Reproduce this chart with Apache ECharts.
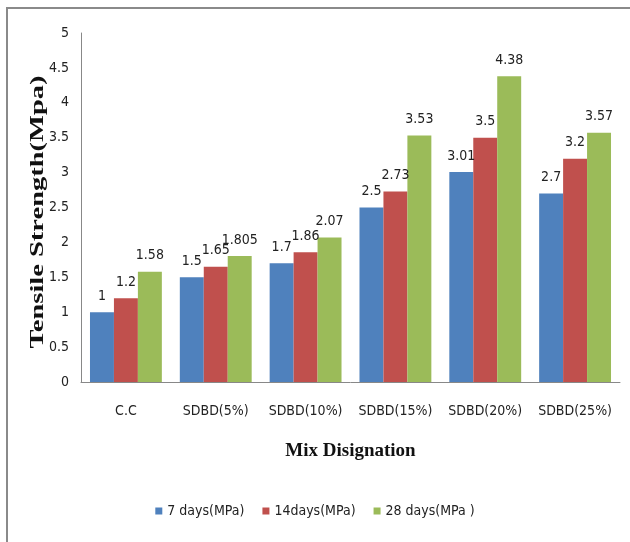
<!DOCTYPE html>
<html>
<head>
<meta charset="utf-8">
<script src="https://cdn.jsdelivr.net/npm/echarts@6/dist/echarts.min.js"></script>
<style>
  html, body { margin: 0; padding: 0; background: #fff; }
  #chart { width: 630px; height: 542px; }
</style>
</head>
<body>
<div id="chart"></div>
<script>
// Split tensile strength of concrete mixes at three curing ages
const categories = ['C.C', 'SDBD(5%)', 'SDBD(10%)', 'SDBD(15%)', 'SDBD(20%)', 'SDBD(25%)'];
const seriesNames = ['7 days(MPa)', '14days(MPa)', '28 days(MPa )'];
const days7 = [1, 1.5, 1.7, 2.5, 3.01, 2.7];
const days14 = [1.2, 1.65, 1.86, 2.73, 3.5, 3.2];
const days28 = [1.58, 1.805, 2.07, 3.53, 4.38, 3.57];
const yTicks = [0, 0.5, 1, 1.5, 2, 2.5, 3, 3.5, 4, 4.5, 5];
const yTitle = 'Tensile Strength(Mpa)';
const xTitle = 'Mix Disignation';

const colors = ['#4f81bd', '#c0504d', '#9bbb59'];
const narrow = "'DejaVu Sans Condensed', Roboto, sans-serif";
const serif = "'Liberation Serif', 'DejaVu Serif', serif";

const chart = echarts.init(document.getElementById('chart'), null, { renderer: 'canvas' });

function barSeries(name, data, color) {
  return {
    name: name,
    type: 'bar',
    data: data,
    barGap: '0%',
    barCategoryGap: '20%',
    itemStyle: { color: color },
    label: {
      show: true,
      position: 'top',
      distance: 9,
      color: '#222',
      fontFamily: narrow,
      fontSize: 14
    }
  };
}

chart.setOption({
  animation: false,
  color: colors,
  grid: { left: 81, top: 33, right: 10, bottom: 160, containLabel: false },
  legend: {
    bottom: 19,
    left: 'center',
    icon: 'rect',
    itemWidth: 7,
    itemHeight: 7,
    itemGap: 18,
    textStyle: { fontFamily: narrow, fontSize: 14, color: '#222' },
    data: seriesNames
  },
  xAxis: {
    type: 'category',
    data: categories,
    name: xTitle,
    nameLocation: 'middle',
    nameGap: 60,
    nameMoveOverlap: false,
    nameTextStyle: { fontFamily: serif, fontWeight: 'bold', fontSize: 19, color: '#111' },
    axisLine: { lineStyle: { color: '#888', width: 1 } },
    axisTick: { show: false },
    axisLabel: { interval: 0, fontFamily: narrow, fontSize: 14, color: '#222', margin: 22 }
  },
  yAxis: {
    type: 'value',
    min: 0,
    max: 5,
    interval: 0.5,
    axisLine: { show: true, lineStyle: { color: '#888', width: 1 } },
    axisTick: { show: false },
    splitLine: { show: false },
    axisLabel: {
      fontFamily: narrow,
      fontSize: 14,
      color: '#222',
      margin: 12,
      formatter: function (v) {
        const t = yTicks.find(function (x) { return Math.abs(x - v) < 1e-9; });
        return t === undefined ? '' : String(t);
      }
    }
  },
  series: [
    barSeries(seriesNames[0], days7, colors[0]),
    barSeries(seriesNames[1], days14, colors[1]),
    barSeries(seriesNames[2], days28, colors[2])
  ],
  graphic: [
    { type: 'line', shape: { x1: 6, y1: 8, x2: 630, y2: 8 }, style: { stroke: '#8a8a8a', lineWidth: 2 } },
    { type: 'line', shape: { x1: 7, y1: 8, x2: 7, y2: 542 }, style: { stroke: '#8a8a8a', lineWidth: 2 } },
    // vertical axis title, stretched along its length
    {
      type: 'text',
      x: 38,
      y: 212,
      rotation: Math.PI / 2,
      scaleX: 1.5,
      style: {
        text: yTitle,
        font: 'bold 19px ' + serif,
        fill: '#111',
        align: 'center',
        verticalAlign: 'middle'
      }
    }
  ]
});
</script>
</body>
</html>
